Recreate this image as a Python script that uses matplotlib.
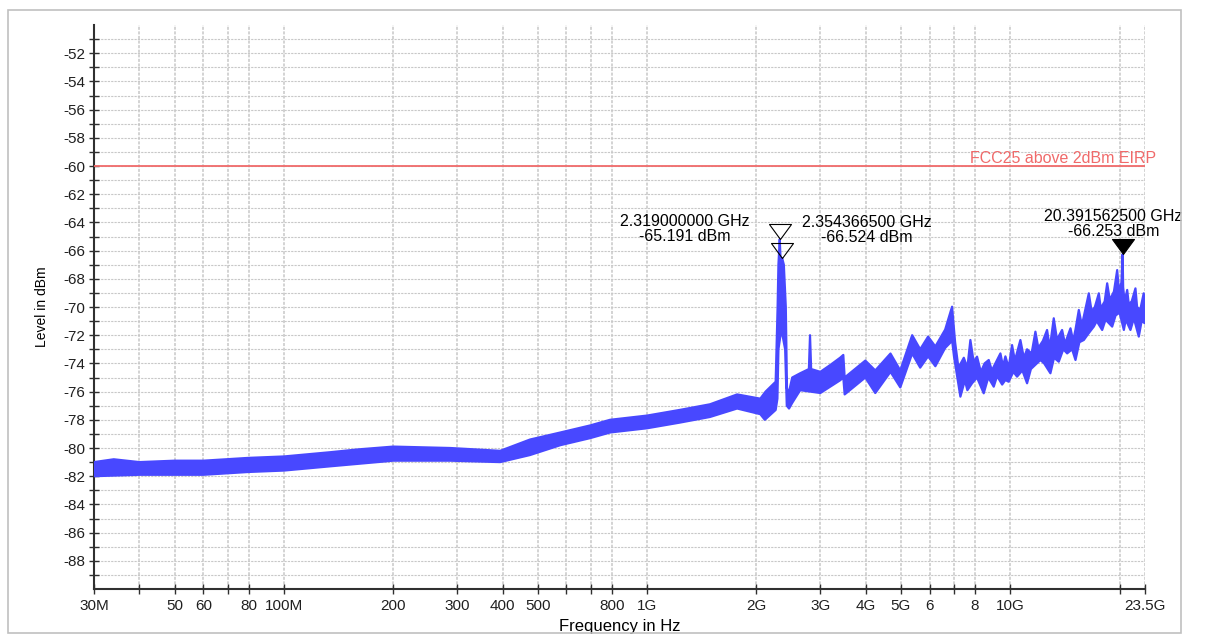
import numpy as np
import matplotlib
matplotlib.use("Agg")
import matplotlib.pyplot as plt
from matplotlib.path import Path
from matplotlib.patches import Rectangle
from matplotlib.ticker import FixedLocator, FixedFormatter, NullFormatter

plt.rcParams["font.family"] = ["Liberation Sans", "DejaVu Sans"]
plt.rcParams["axes.unicode_minus"] = False

# upper / lower edge of the measured trace (MHz, dBm)
upper_mhz = [30, 34, 40, 50, 60, 80, 100, 134, 160, 200, 287, 394, 476, 577, 697, 791,
             1000, 1230, 1490, 1770, 2050, 2120, 2260, 2288, 2300, 2319, 2332, 2354.3665,
             2380, 2410, 2428, 2460, 2510, 2640, 2790, 2810, 2830, 3000, 3200, 3400, 3470,
             3500, 3990, 4250, 4680, 4980, 5370, 5650, 5940, 6220, 6620, 6915, 7050, 7200,
             7450, 7620, 7767, 7930, 8102, 8300, 8500, 8725, 8900, 9100, 9396, 9550, 9698,
             9900, 10116, 10300, 10665, 10900, 11126, 11450, 11730, 11950, 12300, 12631,
             12850, 13177, 13450, 13892, 14150, 14652, 14900, 15124, 15447, 15750, 16458,
             16750, 17100, 17537, 17750, 18200, 18489, 18800, 19300, 19700, 19950, 20250,
             20391.5625, 20460, 20650, 20991, 21200, 21600, 22120, 22350, 22800, 23306, 23500]
upper_dbm = [-81.0, -80.8, -81.0, -80.9, -80.9, -80.7, -80.6, -80.3, -80.1, -79.9, -80.0,
             -80.2, -79.4, -78.9, -78.4, -78.0, -77.7, -77.3, -76.9, -76.2, -76.5, -76.0,
             -75.3, -70.0, -67.0, -65.191, -66.7, -66.524, -67.0, -70.0, -75.8, -76.0,
             -75.0, -74.7, -74.4, -72.0, -74.4, -74.6, -74.1, -73.6, -73.4, -75.0, -73.8,
             -74.5, -73.3, -74.5, -72.0, -73.0, -72.1, -72.8, -71.6, -69.98, -72.5, -74.3,
             -73.6, -74.3, -72.34, -73.9, -73.52, -74.6, -74.0, -73.76, -74.5, -74.0, -73.29,
             -74.2, -73.5, -74.3, -72.70, -73.8, -72.34, -73.6, -73.0, -73.3, -71.75, -72.9,
             -72.4, -71.63, -72.9, -70.80, -72.3, -71.63, -72.6, -71.51, -72.4, -71.6, -70.21,
             -71.3, -69.03, -70.3, -70.0, -69.03, -70.1, -69.6, -68.32, -69.5, -68.9, -67.38,
             -69.0, -68.2, -66.253, -68.6, -69.6, -68.79, -69.8, -69.6, -68.68, -70.0, -70.2,
             -69.03, -69.6]

lower_mhz = [30, 40, 50, 60, 80, 100, 134, 200, 287, 394, 476, 577, 697, 791, 1000, 1230,
             1490, 1770, 2050, 2110, 2260, 2285, 2300, 2330, 2360, 2400, 2425, 2460, 2510,
             2640, 3000, 3400, 3470, 3500, 3990, 4250, 4680, 4980, 5370, 5650, 5940, 6220,
             6620, 6920, 7000, 7290, 7500, 7620, 7850, 8100, 8452, 8700, 9006, 9200, 9500,
             9698, 9900, 10200, 10442, 10800, 11126, 11400, 12108, 12400, 12901, 13200,
             13601, 14000, 14345, 14800, 15124, 15500, 15945, 16400, 16989, 17300, 17912,
             18300, 19085, 19500, 20000, 20552, 20800, 21430, 21900, 22593, 23000, 23500]
lower_dbm = [-82.0, -81.9, -81.9, -81.9, -81.7, -81.6, -81.3, -80.9, -80.9, -81.0, -80.5,
             -79.8, -79.3, -78.9, -78.6, -78.2, -77.8, -77.2, -77.6, -78.0, -77.3, -76.5,
             -73.0, -72.0, -72.0, -73.0, -77.0, -77.2, -76.8, -75.9, -76.1, -75.2, -75.0,
             -76.2, -75.0, -76.1, -74.6, -75.7, -73.3, -74.3, -73.5, -74.2, -72.9, -72.4,
             -73.5, -76.36, -75.2, -75.9, -75.41, -75.0, -76.12, -75.0, -75.65, -74.9, -75.5,
             -75.18, -75.3, -74.6, -74.94, -74.5, -75.41, -74.4, -73.76, -74.0, -74.70, -73.6,
             -73.88, -73.0, -73.29, -73.0, -73.76, -72.5, -72.34, -71.9, -71.39, -71.0, -71.63,
             -70.9, -71.39, -70.6, -70.4, -71.63, -70.9, -71.63, -70.8, -72.10, -71.0, -71.16]

# markers: frequency (GHz), level (dBm), filled
marker_ghz = [2.319000000, 2.354366500, 20.391562500]
marker_dbm = [-65.191, -66.524, -66.253]
marker_filled = [False, False, True]
marker_offset = [(-95, 10), (85, 28), (-9, 30)]

limit_dbm = -60
limit_label = "FCC25 above 2dBm EIRP"

xtick_hz = [30e6, 40e6, 50e6, 60e6, 70e6, 80e6, 100e6, 200e6, 300e6, 400e6, 500e6, 600e6,
            700e6, 800e6, 1e9, 2e9, 3e9, 4e9, 5e9, 6e9, 7e9, 8e9, 10e9, 20e9, 23.5e9]
xtick_labels = ["30M", "", "50", "60", "", "80", "100M", "200", "300", "400", "500", "",
                "", "800", "1G", "2G", "3G", "4G", "5G", "6", "", "8", "10G", "", "23.5G"]

blue = "#4848ff"
red = "#f06a6a"

fig = plt.figure(figsize=(12.09, 6.35), dpi=100)
fig.patches.append(Rectangle((8 / 1209, 2 / 635), 1173 / 1209, 623 / 635,
                             transform=fig.transFigure, fill=False,
                             edgecolor="#c0c0c0", lw=1.2))
ax = fig.add_axes([94 / 1209, 46 / 635, 1051 / 1209, 564 / 635])

ax.set_xscale("log")
ax.set_xlim(30e6, 23.5e9)
ax.set_ylim(-90, -50)

ax.xaxis.set_major_locator(FixedLocator(xtick_hz))
ax.xaxis.set_major_formatter(FixedFormatter(xtick_labels))
ax.xaxis.set_minor_locator(FixedLocator([]))
ax.xaxis.set_minor_formatter(NullFormatter())
ax.yaxis.set_major_locator(FixedLocator(np.arange(-88, -51, 2)))
ax.yaxis.set_minor_locator(FixedLocator(np.arange(-89, -50, 2)))

ax.grid(True, which="both", axis="y", color="#c8c8c8", lw=0.8, ls=(0, (2, 1)))
ax.grid(True, which="major", axis="x", color="#c8c8c8", lw=1.1, ls=(0, (2, 1)))

for s in ["top", "right"]:
    ax.spines[s].set_visible(False)
for s in ["left", "bottom"]:
    ax.spines[s].set_color("#303030")
    ax.spines[s].set_linewidth(1.5)

ax.tick_params(axis="both", which="both", direction="inout", length=7, width=1,
               color="#303030", labelsize=11, labelcolor="#202020")
ax.tick_params(axis="x", pad=4)
ax.tick_params(axis="y", pad=3)

ax.set_xlabel("Frequency in Hz", fontsize=12, labelpad=4)
ax.set_ylabel("Level in dBm", fontsize=10, labelpad=10)

# limit line
ax.axhline(limit_dbm, color=red, lw=1.3, zorder=3)
ax.annotate(limit_label, xy=(1.011, limit_dbm), xycoords=("axes fraction", "data"),
            xytext=(0, 8), textcoords="offset pixels", ha="right", va="center",
            color=red, fontsize=11.5, annotation_clip=False)

# trace band
fu = np.array(upper_mhz) * 1e6
fl = np.array(lower_mhz) * 1e6
ax.fill(np.r_[fu, fl[::-1]], np.r_[upper_dbm, lower_dbm[::-1]],
        facecolor=blue, edgecolor=blue, lw=1.6, joinstyle="round", zorder=4)

# markers with tip at the measured point
tri = Path([(-11, 15), (11, 15), (0, 0), (-11, 15)],
           [Path.MOVETO, Path.LINETO, Path.LINETO, Path.CLOSEPOLY])
for f, lvl, filled, off in zip(marker_ghz, marker_dbm, marker_filled, marker_offset):
    ax.plot(f * 1e9, lvl, marker=tri, ms=21.6, mec="black", mew=0.8,
            mfc="black" if filled else "none", zorder=6, clip_on=False)
    ax.annotate(f"{f:.9f} GHz\n{lvl:.3f} dBm", xy=(f * 1e9, lvl), xytext=off,
                textcoords="offset pixels", ha="center", va="center",
                fontsize=11.5, linespacing=1.0, zorder=7)

fig.savefig("out.png", dpi=100)
